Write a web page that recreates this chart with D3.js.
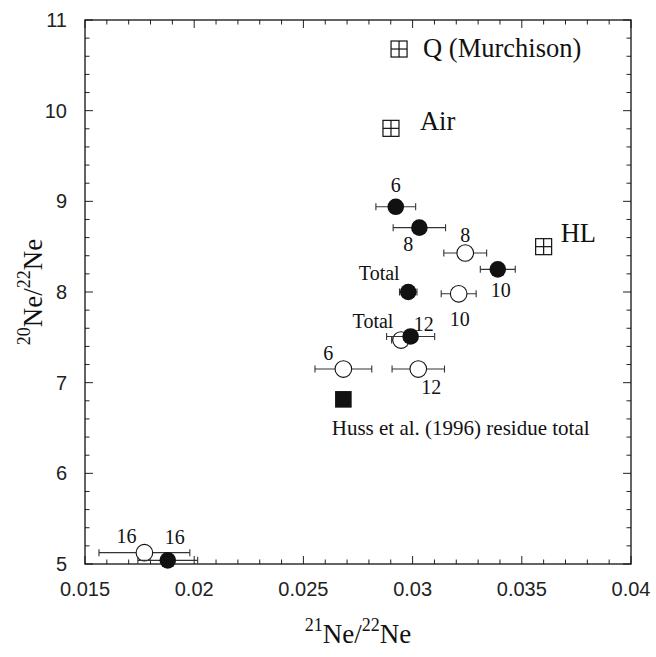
<!DOCTYPE html>
<html>
<head>
<meta charset="utf-8">
<script src="https://cdn.jsdelivr.net/npm/d3@7"></script>
<style>
  html, body { margin: 0; padding: 0; background: #fff; }
  svg { display: block; }
</style>
</head>
<body>
<svg id="chart" width="656" height="657"></svg>
<script>
// ---------- data ----------
const xTicks = [0.015, 0.02, 0.025, 0.03, 0.035, 0.04];
const xTickLabels = ["0.015", "0.02", "0.025", "0.03", "0.035", "0.04"];
const yTicks = [5, 6, 7, 8, 9, 10, 11];
const yTickLabels = ["5", "6", "7", "8", "9", "10", "11"];

const filledLabels = ["6", "8", "10", "Total", "12", "16"];
const filledX = [0.02923, 0.03031, 0.0339, 0.0298, 0.02991, 0.01879];
const filledY = [8.94, 8.71, 8.25, 8.00, 7.51, 5.04];
const filledErr = [0.00091, 0.0012, 0.0008, 0.0004, 0.0011, 0.00137];

const openLabels = ["8", "10", "Total", "6", "12", "16"];
const openX = [0.03241, 0.03211, 0.02947, 0.02683, 0.03026, 0.01772];
const openY = [8.43, 7.98, 7.47, 7.15, 7.15, 5.125];
const openErr = [0.00098, 0.0008, 0.00043, 0.0013, 0.0012, 0.00208];

const refLabels = ["Q (Murchison)", "Air", "HL"];
const refX = [0.02938, 0.02901, 0.0360];
const refY = [10.68, 9.805, 8.50];

const hussLabel = ["Huss et al. (1996) residue total"];
const hussX = [0.02683];
const hussY = [6.816];

// ---------- layout (label offsets in px, not data) ----------
const filledOffsets = [[0, -22], [-11, 16], [3, 21], [-29, -19], [13, -12], [7, -23]];
const openOffsets = [[0, -18], [1, 25], [-28, -19], [-15, -16], [13, 18], [-18, -17]];
const refOffsets = [[24, 8], [29, 2], [17, -5]];

const L = 85, R = 631, T = 20, B = 564;
const svg = d3.select("#chart");
const x = d3.scaleLinear().domain([0.015, 0.04]).range([L, R]);
const y = d3.scaleLinear().domain([5, 11]).range([B, T]);

const serif = "'Liberation Serif', 'Times New Roman', serif";
const sans = "'Liberation Sans', Arial, sans-serif";

// ticks (inward on all four sides)
const xMinor = d3.range(15, 41).map(d => d / 1000);
const yMinor = d3.range(25, 56).map(d => d / 5);
const tk = svg.append("g").attr("stroke", "#222").attr("stroke-width", 1);
xMinor.forEach(v => {
  const major = xTicks.some(t => Math.abs(t - v) < 1e-9);
  const len = major ? 8 : 4.5;
  tk.append("line").attr("x1", x(v)).attr("x2", x(v)).attr("y1", B).attr("y2", B - len);
  tk.append("line").attr("x1", x(v)).attr("x2", x(v)).attr("y1", T).attr("y2", T + len);
});
yMinor.forEach(v => {
  const major = yTicks.some(t => Math.abs(t - v) < 1e-9);
  const len = major ? 8 : 4.5;
  tk.append("line").attr("y1", y(v)).attr("y2", y(v)).attr("x1", L).attr("x2", L + len);
  tk.append("line").attr("y1", y(v)).attr("y2", y(v)).attr("x1", R).attr("x2", R - len);
});

// frame
svg.append("rect").attr("x", L).attr("y", T).attr("width", R - L).attr("height", B - T)
  .attr("fill", "none").attr("stroke", "#111").attr("stroke-width", 1.3);

// tick labels
svg.append("g").selectAll("text").data(xTicks).join("text")
  .attr("x", d => x(d)).attr("y", B + 32)
  .attr("text-anchor", "middle").attr("font-family", sans).attr("font-size", 20)
  .attr("fill", "#222").text((d, i) => xTickLabels[i]);
svg.append("g").selectAll("text").data(yTicks).join("text")
  .attr("x", L - 18).attr("y", d => y(d)).attr("dy", "0.35em")
  .attr("text-anchor", "end").attr("font-family", sans).attr("font-size", 20)
  .attr("fill", "#222").text((d, i) => yTickLabels[i]);

// axis titles
function isoTitle(g, a, b) {
  const t = g.append("text").attr("font-family", serif).attr("font-size", 27).attr("fill", "#111")
    .attr("text-anchor", "middle");
  t.append("tspan").attr("font-size", 18).attr("dy", -12).text(a);
  t.append("tspan").attr("dy", 12).text("Ne/");
  t.append("tspan").attr("font-size", 18).attr("dy", -12).text(b);
  t.append("tspan").attr("dy", 12).text("Ne");
  return t;
}
isoTitle(svg.append("g").attr("transform", `translate(${(L + R) / 2},643)`), "21", "22");
isoTitle(svg.append("g").attr("transform", `translate(42,${(T + B) / 2}) rotate(-90)`), "20", "22");

// error bars
function errBars(xs, ys, es) {
  const g = svg.append("g").attr("stroke", "#333").attr("stroke-width", 1.1);
  xs.forEach((v, i) => {
    const yy = y(ys[i]), x1 = x(v - es[i]), x2 = x(v + es[i]);
    g.append("line").attr("x1", x1).attr("x2", x2).attr("y1", yy).attr("y2", yy);
    g.append("line").attr("x1", x1).attr("x2", x1).attr("y1", yy - 3.5).attr("y2", yy + 3.5);
    g.append("line").attr("x1", x2).attr("x2", x2).attr("y1", yy - 3.5).attr("y2", yy + 3.5);
  });
}
errBars(openX, openY, openErr);
svg.append("g").selectAll("circle").data(openX).join("circle")
  .attr("cx", d => x(d)).attr("cy", (d, i) => y(openY[i])).attr("r", 8.3)
  .attr("fill", "#fff").attr("stroke", "#111").attr("stroke-width", 1.1);
errBars(filledX, filledY, filledErr);
svg.append("g").selectAll("circle").data(filledX).join("circle")
  .attr("cx", d => x(d)).attr("cy", (d, i) => y(filledY[i])).attr("r", 8.3)
  .attr("fill", "#111");

// point labels
function ptLabels(xs, ys, labs, offs) {
  svg.append("g").selectAll("text").data(xs).join("text")
    .attr("x", (d, i) => x(d) + offs[i][0]).attr("y", (d, i) => y(ys[i]) + offs[i][1])
    .attr("dy", "0.35em").attr("text-anchor", "middle")
    .attr("font-family", serif).attr("font-size", 20).attr("fill", "#111")
    .text((d, i) => labs[i]);
}
ptLabels(filledX, filledY, filledLabels, filledOffsets);
ptLabels(openX, openY, openLabels, openOffsets);

// reference compositions (crossed squares)
const s = 8;
const rg = svg.append("g").attr("stroke", "#111").attr("stroke-width", 1.2).attr("fill", "#fff");
refX.forEach((v, i) => {
  const cx = x(v), cy = y(refY[i]);
  rg.append("rect").attr("x", cx - s).attr("y", cy - s).attr("width", 2 * s).attr("height", 2 * s);
  rg.append("line").attr("x1", cx - s).attr("x2", cx + s).attr("y1", cy).attr("y2", cy);
  rg.append("line").attr("x1", cx).attr("x2", cx).attr("y1", cy - s).attr("y2", cy + s);
});
svg.append("g").selectAll("text").data(refX).join("text")
  .attr("x", (d, i) => x(d) + refOffsets[i][0]).attr("y", (d, i) => y(refY[i]) + refOffsets[i][1])
  .attr("font-family", serif).attr("font-size", 26.5).attr("fill", "#111")
  .text((d, i) => refLabels[i]);

// Huss et al. residue total
svg.append("g").selectAll("rect").data(hussX).join("rect")
  .attr("x", d => x(d) - 8.3).attr("y", (d, i) => y(hussY[i]) - 8.3)
  .attr("width", 16.6).attr("height", 16.6).attr("fill", "#111");
svg.append("g").selectAll("text").data(hussX).join("text")
  .attr("x", d => x(d) - 11.6).attr("y", (d, i) => y(hussY[i]) + 36)
  .attr("font-family", serif).attr("font-size", 21).attr("fill", "#111")
  .text((d, i) => hussLabel[i]);
</script>
</body>
</html>
